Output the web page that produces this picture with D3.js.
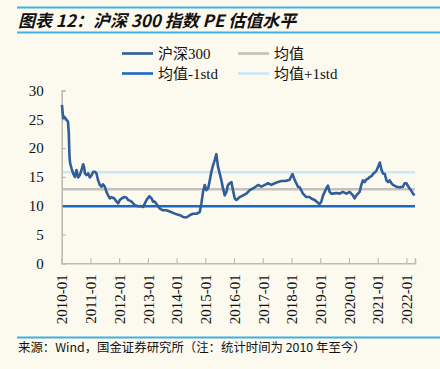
<!DOCTYPE html>
<html><head><meta charset="utf-8">
<script src="https://cdn.jsdelivr.net/npm/d3@7"></script>
<style>
html,body{margin:0;padding:0;background:#fcf9ef;}
svg{display:block;}
</style></head>
<body>
<script>
const dates = ["2010-01-04","2010-01-20","2010-02-05","2010-03-03","2010-03-22","2010-04-01","2010-04-10","2010-04-18","2010-05-06","2010-05-26","2010-06-17","2010-07-08","2010-07-28","2010-08-19","2010-09-10","2010-10-01","2010-10-14","2010-10-23","2010-11-13","2010-12-04","2010-12-25","2011-01-16","2011-02-06","2011-02-28","2011-03-19","2011-04-09","2011-05-01","2011-05-21","2011-06-12","2011-07-03","2011-07-24","2011-08-14","2011-09-05","2011-09-26","2011-11-01","2011-11-30","2011-12-20","2012-01-10","2012-02-01","2012-03-13","2012-04-04","2012-04-25","2012-06-07","2012-07-19","2012-09-01","2012-10-13","2012-11-03","2012-11-24","2012-12-15","2013-01-18","2013-02-18","2013-03-07","2013-03-28","2013-04-20","2013-06-01","2013-07-13","2013-08-25","2013-10-06","2013-11-17","2014-01-01","2014-02-12","2014-03-23","2014-05-06","2014-06-17","2014-07-28","2014-09-10","2014-10-22","2014-11-12","2014-12-03","2014-12-24","2015-01-15","2015-02-06","2015-02-27","2015-03-19","2015-04-09","2015-05-01","2015-05-21","2015-06-12","2015-07-03","2015-07-24","2015-08-14","2015-09-05","2015-09-26","2015-10-16","2015-11-08","2015-11-29","2015-12-19","2016-01-10","2016-02-01","2016-02-22","2016-03-13","2016-04-25","2016-06-07","2016-07-19","2016-09-21","2016-11-03","2016-12-15","2017-01-27","2017-03-08","2017-04-20","2017-06-01","2017-07-13","2017-08-25","2017-10-06","2017-11-17","2017-12-08","2018-01-13","2018-02-12","2018-03-03","2018-03-24","2018-04-15","2018-05-26","2018-07-08","2018-08-19","2018-09-10","2018-10-22","2018-12-03","2018-12-24","2019-01-15","2019-02-06","2019-02-27","2019-03-19","2019-04-09","2019-05-01","2019-05-21","2019-06-12","2019-07-24","2019-09-05","2019-10-16","2019-11-30","2020-01-10","2020-02-21","2020-03-13","2020-04-04","2020-05-16","2020-06-06","2020-06-27","2020-07-19","2020-08-10","2020-09-01","2020-09-22","2020-10-13","2020-11-03","2020-12-15","2021-01-06","2021-01-28","2021-02-18","2021-03-10","2021-04-01","2021-04-22","2021-05-13","2021-06-03","2021-06-24","2021-07-14","2021-08-26","2021-10-07","2021-11-18","2021-12-09","2022-01-01","2022-01-21","2022-02-11","2022-03-04","2022-03-25","2022-04-15"];
const peValues = [27.5,25.2,25.4,24.9,24.6,22.6,18.5,17.4,16.5,15.6,15.0,16.2,14.9,15.3,16.2,17.2,16.6,15.6,15.3,15.6,14.9,15.3,15.9,15.9,15.6,14.4,13.6,13.3,13.7,13.3,12.4,11.8,11.25,11.5,11.25,10.7,10.4,11.0,11.25,11.5,11.4,11.0,10.7,10.1,9.9,9.95,9.8,10.4,11.0,11.65,11.25,10.7,10.7,10.3,9.5,9.2,9.2,9.0,8.75,8.5,8.35,8.05,7.95,8.35,8.6,8.6,8.9,10.4,12.4,13.6,12.7,13.0,14.4,15.9,17.0,17.9,18.95,16.75,15.6,14.4,13.0,11.8,12.4,13.6,13.9,14.1,12.7,11.25,11.0,11.25,11.5,11.8,12.1,12.7,13.2,13.6,13.3,13.6,13.9,13.6,13.9,14.1,14.3,14.3,14.4,14.5,15.5,14.4,13.9,13.3,13.2,12.1,11.5,11.5,11.25,11.0,10.5,10.3,10.7,11.8,12.4,13.0,13.5,12.4,12.1,12.1,12.2,12.1,12.4,12.1,12.4,11.8,11.25,11.8,12.4,13.6,14.4,14.1,14.55,14.7,15.0,15.1,15.5,16.05,16.75,17.5,16.2,15.6,15.5,14.4,14.1,14.4,13.9,13.6,13.3,13.2,13.3,13.9,13.9,13.4,13.0,12.6,12.1,11.8];
const meanValue = 12.85;
const minusStd = 9.9;
const plusStd = 15.8;
const yTicks = [0,5,10,15,20,25,30];
const xTickLabels = ["2010-01","2011-01","2012-01","2013-01","2014-01","2015-01","2016-01","2017-01","2018-01","2019-01","2020-01","2021-01","2022-01"];
const legendNames = ["沪深300","均值","均值-1std","均值+1std"];
const titleText = "图表 12：沪深 300 指数 PE 估值水平";
const sourceText = "来源：Wind，国金证券研究所（注：统计时间为 2010 年至今）";

const W = 440, H = 369;
const C = {pe:"#2f5e98", mean:"#c3c1bd", minus:"#1a68c4", plus:"#c9e7f8", axis:"#bdbbb6", rule:"#3fb0e2", text:"#111"};
const serif = "'Liberation Serif','Times New Roman','Noto Sans CJK SC',serif";
const cjk = "'Noto Sans CJK SC','Liberation Sans',sans-serif";

const svg = d3.select("body").append("svg").attr("width",W).attr("height",H);
svg.append("rect").attr("width",W).attr("height",H).attr("fill","#fcf9ef");

// title rules
svg.append("line").attr("x1",17).attr("x2",W).attr("y1",7.5).attr("y2",7.5).attr("stroke",C.rule).attr("stroke-width",2);
svg.append("line").attr("x1",17).attr("x2",W).attr("y1",32.5).attr("y2",32.5).attr("stroke",C.rule).attr("stroke-width",2);
svg.append("text").attr("x",18).attr("y",26.5).attr("font-family",cjk).attr("font-weight","bold").attr("font-style","italic")
  .attr("font-size",17).attr("fill",C.text).text(titleText);

// footer
svg.append("line").attr("x1",17).attr("x2",W).attr("y1",337.5).attr("y2",337.5).attr("stroke",C.rule).attr("stroke-width",2);
svg.append("text").attr("x",18).attr("y",352).attr("font-family",cjk).attr("font-size",12.4).attr("fill",C.text).text(sourceText);

const parse = d3.timeParse("%Y-%m-%d");
const pm = d3.timeParse("%Y-%m");
const data = dates.map((d,i)=>({d:parse(d), v:peValues[i]}));

const x = d3.scaleTime().domain([parse("2010-01-01"), parse("2022-04-20")]).range([61.7, 415]);
const y = d3.scaleLinear().domain([0,30]).range([263.3, 90.5]);

// axes
const gx = svg.append("g").attr("transform",`translate(0,${y(0)})`)
  .call(d3.axisBottom(x).tickValues(xTickLabels.map(pm)).tickSize(-5).tickFormat(d3.timeFormat("%Y-%m")));
gx.select(".domain").attr("stroke",C.axis).attr("stroke-width",1.6);
gx.selectAll(".tick line").attr("stroke",C.axis).attr("stroke-width",1.2);
gx.selectAll(".tick text").attr("font-family",serif).attr("font-size",15).attr("fill",C.text)
  .attr("transform","rotate(-90)").attr("text-anchor","end").attr("x",-11).attr("y",0).attr("dy","0.35em");

const gy = svg.append("g").attr("transform",`translate(${x.range()[0]},0)`)
  .call(d3.axisLeft(y).tickValues(yTicks).tickSize(-4).tickPadding(18));
gy.select(".domain").attr("stroke",C.axis).attr("stroke-width",1.6);
gy.selectAll(".tick line").attr("stroke",C.axis).attr("stroke-width",1.2);
gy.selectAll(".tick text").attr("font-family",serif).attr("font-size",15).attr("fill",C.text);

// reference lines
const refs = [[plusStd,C.plus],[meanValue,C.mean],[minusStd,C.minus]];
svg.selectAll(".ref").data(refs).enter().append("line")
  .attr("x1",x.range()[0]+1).attr("x2",x.range()[1]).attr("y1",d=>y(d[0])).attr("y2",d=>y(d[0]))
  .attr("stroke",d=>d[1]).attr("stroke-width",2.4);

// series
svg.append("path").datum(data).attr("fill","none").attr("stroke",C.pe).attr("stroke-width",2.6)
  .attr("stroke-linejoin","round")
  .attr("d",d3.line().x(d=>x(d.d)).y(d=>y(d.v)));

// legend
const legendColors = [C.pe,C.mean,C.minus,C.plus];
const lx = [122,238], ly = [53.5,73.5];
legendNames.forEach((n,i)=>{
  const cx = lx[i%2], cy = ly[Math.floor(i/2)];
  svg.append("line").attr("x1",cx).attr("x2",cx+31).attr("y1",cy).attr("y2",cy).attr("stroke",legendColors[i]).attr("stroke-width",2.6);
  svg.append("text").attr("x",cx+36).attr("y",cy+5.5).attr("font-family",serif).attr("font-size",15).attr("fill",C.text).text(n);
});
</script>
</body></html>
